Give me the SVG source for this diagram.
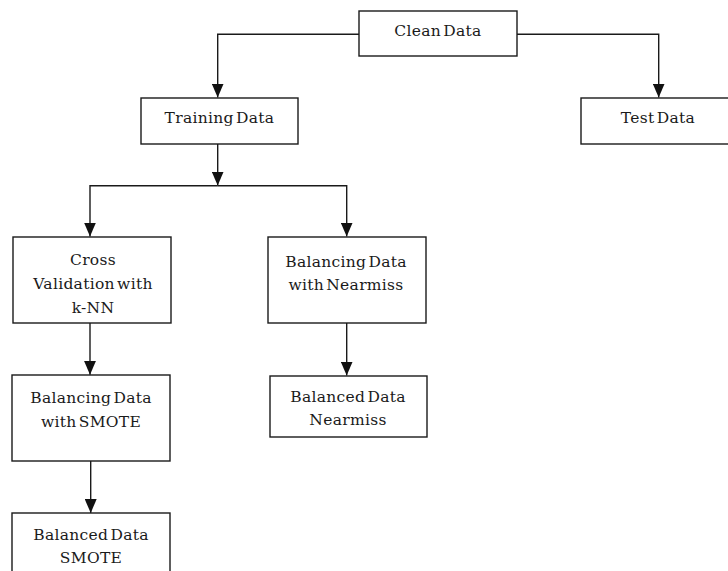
<svg xmlns="http://www.w3.org/2000/svg" width="728" height="571" viewBox="0 0 728 571">
<style>
.box{fill:#fff;stroke:#1a1a1a;stroke-width:1.4}
text{font-family:'DejaVu Serif',serif;font-size:15.5px;fill:#1a1a1a;text-anchor:middle;letter-spacing:0.3px;word-spacing:-3px}
.edge{fill:none;stroke:#1a1a1a;stroke-width:1.4}
</style>
<defs>
<marker id="ah" markerUnits="userSpaceOnUse" markerWidth="14" markerHeight="12" viewBox="0 0 14 12" refX="14" refY="6" orient="auto">
<path d="M0,0 L14,6 L0,12 Z" fill="#111"/>
</marker>
</defs>
<rect width="728" height="571" fill="#fff"/>
<g id="connectors">
<path class="edge" d="M359,34.3 H217.7 V97.5" marker-end="url(#ah)"/>
<path class="edge" d="M516.7,34.3 H658.7 V97.5" marker-end="url(#ah)"/>
<path class="edge" d="M217.7,144 V185.5" marker-end="url(#ah)"/>
<path class="edge" d="M217.7,185.7 H90 V236.5" marker-end="url(#ah)"/>
<path class="edge" d="M217.7,185.7 H346.7 V236.5" marker-end="url(#ah)"/>
<path class="edge" d="M90,323 V374.8" marker-end="url(#ah)"/>
<path class="edge" d="M346.7,322.7 V375.5" marker-end="url(#ah)"/>
<path class="edge" d="M90.7,461 V513" marker-end="url(#ah)"/>
</g>
<g id="clean-data">
<rect class="box" x="359" y="11" width="158" height="45"/>
<text x="438" y="36">Clean Data</text>
</g>
<g id="training-data">
<rect class="box" x="141" y="98" width="157" height="46"/>
<text x="219.5" y="123.3">Training Data</text>
</g>
<g id="test-data">
<rect class="box" x="581" y="98" width="160" height="46"/>
<text x="658" y="123.3">Test Data</text>
</g>
<g id="cross-validation">
<rect class="box" x="13" y="237" width="158" height="86"/>
<text x="93" y="265">Cross</text>
<text x="93" y="289.3">Validation with</text>
<text x="93" y="313.3">k-NN</text>
</g>
<g id="balancing-nearmiss">
<rect class="box" x="268" y="237" width="158" height="86"/>
<text x="346" y="266.7">Balancing Data</text>
<text x="346" y="290">with Nearmiss</text>
</g>
<g id="balancing-smote">
<rect class="box" x="12" y="375" width="158" height="86"/>
<text x="91" y="403.3">Balancing Data</text>
<text x="91" y="427.3">with SMOTE</text>
</g>
<g id="balanced-nearmiss">
<rect class="box" x="270" y="376" width="157" height="61"/>
<text x="348" y="401.7">Balanced Data</text>
<text x="348" y="425">Nearmiss</text>
</g>
<g id="balanced-smote">
<rect class="box" x="12" y="513" width="158" height="70"/>
<text x="91" y="540">Balanced Data</text>
<text x="91" y="563.3">SMOTE</text>
</g>
</svg>
